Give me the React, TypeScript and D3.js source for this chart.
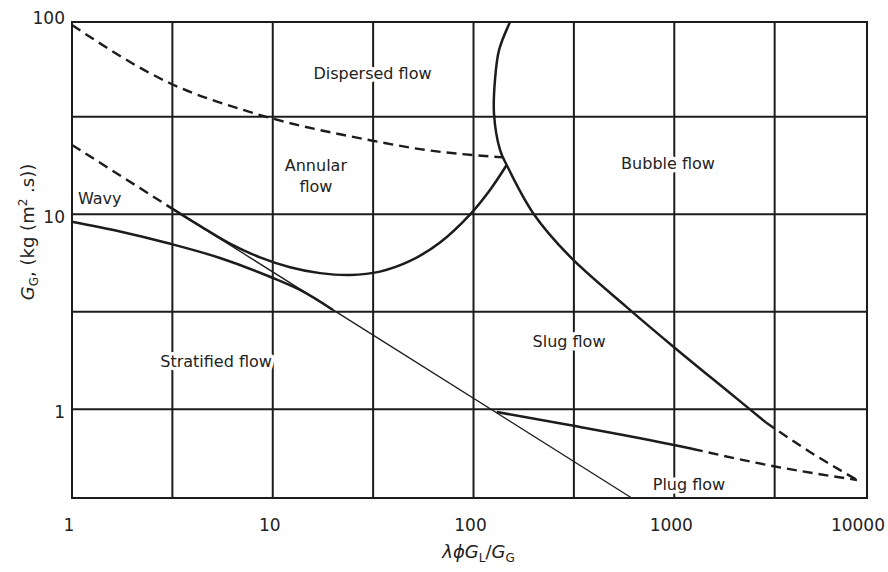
import React from "react";
import * as d3 from "d3";

const W = 888;
const H = 572;
const M = { left: 72, right: 21, top: 22, bottom: 74 };

const X_DOMAIN = [1, 9120];
const Y_DOMAIN = [0.35, 97];

// Gridlines (half decades) and tick labels
const xGridValues = [3.162, 10, 31.62, 100, 316.2, 1000, 3162];
const yGridValues = [1, 3.162, 10, 31.62];
const xTickLabels = [1, 10, 100, 1000, 10000];
const yTickLabels = [1, 10, 100];

// Regime boundaries: [lambda*phi*GL/GG, GG]
const dispersedAnnular = [
  [1, 93.5], [3.04, 47.3], [8.32, 32.7], [30.5, 24.0], [54.1, 21.6], [140.2, 19.6],
];
const wavyAnnularDashed = [
  [1, 22.7], [2.96, 11.15],
];
const stratifiedSlugThin = [
  [2.96, 11.15], [614, 0.35],
];
const annularBoundary = [
  [2.96, 11.15], [4.34, 8.72], [6.12, 7.07], [8.64, 6.01], [12.19, 5.35], [17.19, 4.99],
  [24.25, 4.88], [34.2, 5.08], [48.3, 5.76], [68.1, 7.17], [96.0, 9.97], [120.8, 13.33], [146.3, 17.9],
];
const wavyStratified = [
  [1, 9.16], [1.734, 8.16], [3.02, 7.1], [5.46, 5.97], [9.69, 4.78], [13.67, 4.09], [19.95, 3.23],
];
const slugPlugSolid = [
  [130.5, 0.967], [300, 0.829], [997, 0.655], [1239, 0.6245],
];
const slugPlugDashed = [
  [1239, 0.6245], [3175, 0.508], [8130, 0.433],
];
const bubbleSolid = [
  [152, 96.9], [134, 69.6], [127.9, 48.8], [126.5, 32.7], [135.5, 21.4], [146.3, 17.9],
  [198.6, 10.1], [302.5, 6.06], [579.4, 3.34], [997, 2.08], [1894, 1.21], [2863, 0.854],
];
const bubbleDashed = [
  [2863, 0.854], [4743, 0.603], [8130, 0.433],
];

const regionNames = ["Dispersed flow", "Annular|flow", "Bubble flow", "Wavy", "Stratified flow", "Slug flow", "Plug flow"];
const regionX = [31.4, 16.4, 930.6, 1.07, 5.22, 299, 1184];
const regionY = [53.0, 17.9, 18.25, 12.1, 1.75, 2.22, 0.413];

export default function App() {
  const x = d3.scaleLog().domain(X_DOMAIN).range([M.left, W - M.right]).clamp(true);
  const y = d3.scaleLog().domain(Y_DOMAIN).range([H - M.bottom, M.top]).clamp(true);

  const smoothX = d3
    .line<number[]>()
    .x((d) => x(d[0]))
    .y((d) => y(d[1]))
    .curve(d3.curveMonotoneX);
  const smoothC = d3
    .line<number[]>()
    .x((d) => x(d[0]))
    .y((d) => y(d[1]))
    .curve(d3.curveCatmullRom.alpha(0.5));
  const straight = d3
    .line<number[]>()
    .x((d) => x(d[0]))
    .y((d) => y(d[1]));

  const ink = "#1c1c1c";
  const font = "'DejaVu Sans', Verdana, sans-serif";
  const dash = "10,6";
  const x0 = x.range()[0], x1 = x.range()[1];
  const y0 = y.range()[0], y1 = y.range()[1];

  return (
    <svg
      width={W}
      height={H}
      viewBox={`0 0 ${W} ${H}`}
      style={{ position: "absolute", left: 0, top: 0, background: "#fff", display: "block" }}
    >
      <rect x={0} y={0} width={W} height={H} fill="#fff" />
      {/* grid */}
      <g stroke={ink} strokeWidth={2}>
        {xGridValues.map((v) => (
          <line key={"gx" + v} x1={x(v)} x2={x(v)} y1={y0} y2={y1} />
        ))}
        {yGridValues.map((v) => (
          <line key={"gy" + v} x1={x0} x2={x1} y1={y(v)} y2={y(v)} />
        ))}
      </g>

      {/* region labels with white halo */}
      <g fontFamily={font} fontSize={16} fill="#222" textAnchor="middle">
        {regionNames.map((name, i) => {
          const lines = name.split("|");
          const anchor = name === "Wavy" ? "start" : "middle";
          return (
            <text
              key={name}
              x={x(regionX[i])}
              y={y(regionY[i])}
              textAnchor={anchor}
              stroke="#fff"
              strokeWidth={7}
              paintOrder="stroke"
              strokeLinejoin="round"
            >
              {lines.map((l, j) => (
                <tspan key={j} x={x(regionX[i])} dy={j === 0 ? "0.35em" : "1.35em"}>
                  {l}
                </tspan>
              ))}
            </text>
          );
        })}
      </g>

      {/* boundaries */}
      <g fill="none" stroke={ink} strokeLinecap="butt" strokeLinejoin="round">
        <path d={smoothX(dispersedAnnular) || ""} strokeWidth={2.4} strokeDasharray={dash} />
        <path d={straight(wavyAnnularDashed) || ""} strokeWidth={2.4} strokeDasharray={dash} />
        <path d={straight(stratifiedSlugThin) || ""} strokeWidth={1.3} />
        <path d={smoothC(annularBoundary) || ""} strokeWidth={2.5} />
        <path d={smoothX(wavyStratified) || ""} strokeWidth={2.5} />
        <path d={smoothX(slugPlugSolid) || ""} strokeWidth={2.5} />
        <path d={smoothX(slugPlugDashed) || ""} strokeWidth={2.4} strokeDasharray={dash} />
        <path d={smoothC(bubbleSolid) || ""} strokeWidth={2.5} />
        <path d={smoothX(bubbleDashed) || ""} strokeWidth={2.4} strokeDasharray={dash} />
      </g>

      {/* frame */}
      <rect x={x0} y={y1} width={x1 - x0} height={y0 - y1} fill="none" stroke={ink} strokeWidth={2} />

      {/* tick labels */}
      <g fontFamily={font} fontSize={17} fill="#222">
        {xTickLabels.map((v) => {
          const cx = x(v) - 3;
          const overflow = cx + 28 > W;
          return (
            <text
              key={"xt" + v}
              x={overflow ? W - 3 : cx}
              y={y0 + 33}
              textAnchor={overflow ? "end" : "middle"}
            >
              {v}
            </text>
          );
        })}
        {yTickLabels.map((v) => (
          <text
            key={"yt" + v}
            x={x0 - 7}
            y={y(v) + (y(v) <= y1 + 0.5 ? 2 : 9)}
            textAnchor="end"
          >
            {v}
          </text>
        ))}
      </g>

      {/* axis titles */}
      <text
        x={(x0 + x1) / 2 + 9}
        y={H - 14}
        textAnchor="middle"
        fontFamily={font}
        fontSize={18}
        fill="#222"
      >
        <tspan fontStyle="italic">λϕG</tspan>
        <tspan fontSize={12} dy={4}>L</tspan>
        <tspan dy={-4}>/</tspan>
        <tspan fontStyle="italic">G</tspan>
        <tspan fontSize={12} dy={4}>G</tspan>
      </text>
      <text
        transform={`translate(34, ${(y0 + y1) / 2 - 28}) rotate(-90)`}
        textAnchor="middle"
        fontFamily={font}
        fontSize={18}
        fill="#222"
      >
        <tspan fontStyle="italic">G</tspan>
        <tspan fontSize={12} dy={4}>G</tspan>
        <tspan dy={-4}>, (kg (m</tspan>
        <tspan fontSize={12} dy={-7}>2</tspan>
        <tspan dy={7}> .s))</tspan>
      </text>
    </svg>
  );
}
